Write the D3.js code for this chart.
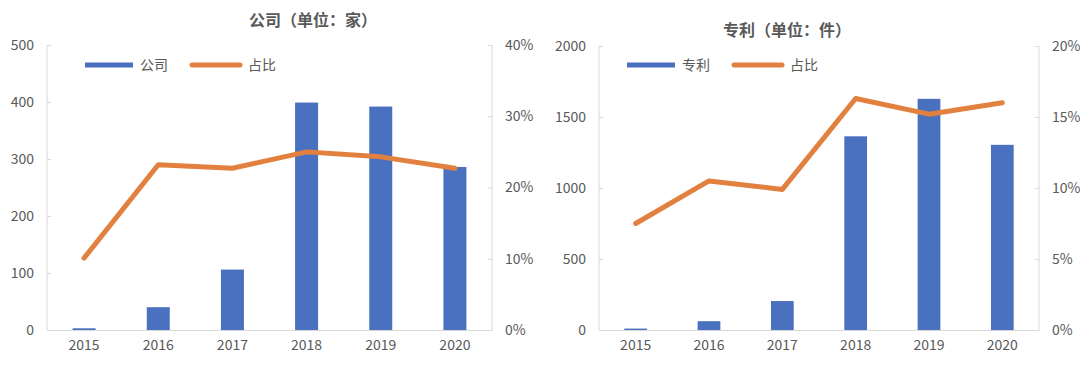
<!DOCTYPE html>
<html><head><meta charset="utf-8">
<script src="https://cdn.jsdelivr.net/npm/d3@7"></script>
<style>
body{margin:0;background:#fff;}
svg text{font-family:"Noto Sans CJK SC","Noto Sans",sans-serif;fill:#595959;}
</style></head>
<body><svg id="c" width="1080" height="369"></svg>
<script>
const years = ["2015","2016","2017","2018","2019","2020"];
const companyCounts = [3, 40, 106, 399, 392, 286];
const companyShare = [0.101, 0.232, 0.227, 0.250, 0.243, 0.227];
const patentCounts = [10, 62, 204, 1364, 1628, 1304];
const patentShare = [0.075, 0.105, 0.099, 0.163, 0.152, 0.160];
const leftTicks = [0,100,200,300,400,500];
const leftPctTicks = [0,0.1,0.2,0.3,0.4];
const rightTicks = [0,500,1000,1500,2000];
const rightPctTicks = [0,0.05,0.1,0.15,0.2];

const svg = d3.select("#c");
const BLUE = "#4a71bf", ORANGE = "#e2813f", AXIS = "#d9d9d9";

function chart(o){
  const g = svg.append("g");
  const x = d3.scaleBand().domain(years).range([o.x0, o.x1]).paddingInner(0.69).paddingOuter(0.345);
  const xc = d3.scaleBand().domain(years).range([o.x0, o.x1]);
  const y = d3.scaleLinear().domain([0, o.ymax]).range([o.yb, o.yt]);
  const y2 = d3.scaleLinear().domain([0, o.pmax]).range([o.yb, o.yt]);

  // axes lines
  const la = g.append("g").attr("transform", `translate(${o.x0},0)`)
    .call(d3.axisLeft(y).tickValues(o.ticks).tickSize(-4).tickPadding(13).tickFormat(d3.format("d")));
  const ra = g.append("g").attr("transform", `translate(${o.x1},0)`)
    .call(d3.axisRight(y2).tickValues(o.pticks).tickSize(-4).tickPadding(13).tickFormat(d3.format(".0%")));
  [la, ra].forEach(a=>{
    a.select(".domain").remove();
    a.selectAll("line").attr("stroke", AXIS);
    a.selectAll("text").style("font-size","14px").attr("fill","#595959").style("fill","#595959");
  });
  g.append("line").attr("x1",o.x0).attr("x2",o.x0).attr("y1",o.yt).attr("y2",o.yb).attr("stroke",AXIS);
  g.append("line").attr("x1",o.x1).attr("x2",o.x1).attr("y1",o.yt).attr("y2",o.yb).attr("stroke",AXIS);

  // bars
  g.selectAll(".bar").data(o.counts).join("rect")
    .attr("x",(d,i)=>x(years[i])).attr("width",x.bandwidth())
    .attr("y",d=>y(d)).attr("height",d=>o.yb-y(d)).attr("fill",BLUE);

  // bottom axis
  const ba = g.append("g").attr("transform",`translate(0,${o.yb})`)
    .call(d3.axisBottom(xc).tickSize(0).tickPadding(10));
  ba.select(".domain").attr("stroke",AXIS);
  ba.selectAll("text").style("font-size","14px").style("fill","#595959");

  // line
  const line = d3.line().x((d,i)=>xc(years[i])+xc.bandwidth()/2).y(d=>y2(d));
  g.append("path").datum(o.share).attr("d",line).attr("fill","none")
    .attr("stroke",ORANGE).attr("stroke-width",5).attr("stroke-linecap","round").attr("stroke-linejoin","round");

  // title
  g.append("text").attr("x",o.tx).attr("y",o.ty).attr("text-anchor","middle")
    .style("font-size","16px").style("font-weight","bold").text(o.title);

  // legend
  const lg = g.append("g");
  lg.append("rect").attr("x",o.lx).attr("y",62.5).attr("width",48).attr("height",5).attr("fill",BLUE);
  lg.append("text").attr("x",o.lx+55).attr("y",70).style("font-size","14px").text(o.name);
  lg.append("line").attr("x1",o.lx+107).attr("x2",o.lx+155).attr("y1",65).attr("y2",65)
    .attr("stroke",ORANGE).attr("stroke-width",5).attr("stroke-linecap","round");
  lg.append("text").attr("x",o.lx+163).attr("y",70).style("font-size","14px").text("占比");
}

chart({x0:47,x1:492,yt:45,yb:330,ymax:500,pmax:0.4,ticks:leftTicks,pticks:leftPctTicks,
  counts:companyCounts,share:companyShare,title:"公司（单位：家）",tx:313,ty:26,lx:85,name:"公司"});
chart({x0:599,x1:1039,yt:46,yb:330,ymax:2000,pmax:0.2,ticks:rightTicks,pticks:rightPctTicks,
  counts:patentCounts,share:patentShare,title:"专利（单位：件）",tx:787,ty:36,lx:627,name:"专利"});
</script></body></html>
